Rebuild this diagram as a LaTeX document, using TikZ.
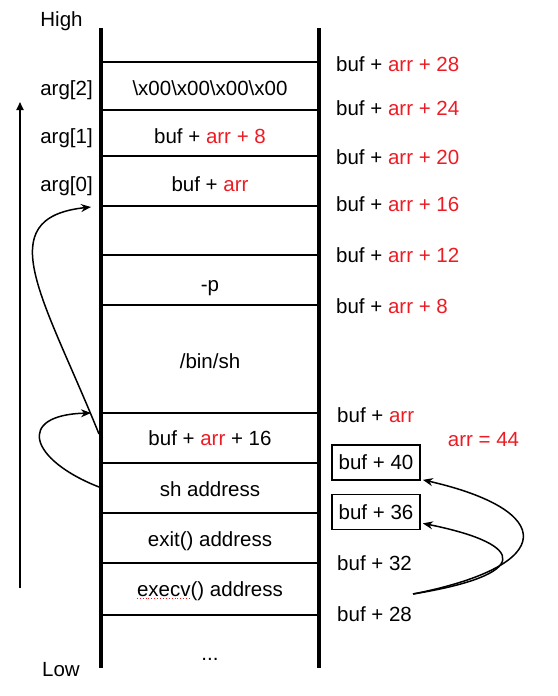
\documentclass[tikz,border=0pt]{standalone}
\usepackage{fontspec}
\setmainfont{Liberation Sans}
\usetikzlibrary{arrows.meta,calc}

\definecolor{arrred}{RGB}{236,28,36}
\newcommand{\rtxt}[1]{\textcolor{arrred}{#1}}

\tikzset{
	lbl/.style={font=\fontsize{20.5}{24}\selectfont, inner sep=0pt, text height=14.7pt, text depth=0pt},
	addr/.style={lbl, anchor=west},
	addrbox/.style={lbl, draw, line width=1.7pt, minimum width=88pt, minimum height=35pt},
	wall/.style={line width=3.5pt},
	sep/.style={line width=2.9pt},
	jump/.style={-{Stealth[length=10pt,width=8pt]}, line width=1.5pt}
}

\begin{document}
\begin{tikzpicture}[x=1pt,y=-1pt]
				\useasboundingbox (0,0) rectangle (557,696);
				
				\draw[wall] (101,28) -- (101,668);
				\draw[wall] (319,28) -- (319,668);
				
				\draw[sep] (101,62) -- (319,62);
				\draw[sep] (101,110) -- (319,110);
				\draw[sep] (101,156) -- (319,156);
				\draw[sep] (101,206) -- (319,206);
				\draw[sep] (101,255) -- (319,255);
				\draw[sep] (101,305) -- (319,305);
				\draw[sep] (101,413) -- (319,413);
				\draw[sep] (101,463) -- (319,463);
				\draw[sep] (101,513) -- (319,513);
				\draw[sep] (101,563) -- (319,563);
				\draw[sep] (101,615) -- (319,615);
				
				\node[lbl] (high) at (61.5,19.5) {High};
				\node[lbl] (low) at (61,669.5) {Low};
				\node[lbl] (arg2) at (66.5,88.5) {arg[2]};
				\node[lbl] (arg1) at (66.5,136) {arg[1]};
				\node[lbl] (arg0) at (66.5,184) {arg[0]};
				
				\node[lbl] (nul) at (210,88.5) {\textbackslash x00\textbackslash x00\textbackslash x00\textbackslash x00};
				\node[lbl] (ptrone) at (210,136) {buf + \rtxt{arr + 8}};
				\node[lbl] (ptrzero) at (210,184) {buf + \rtxt{arr}};
				\node[lbl] (opt) at (210,284) {-p};
				\node[lbl] (bin) at (210,361) {/bin/sh};
				\node[lbl] (argv) at (210,438.5) {buf + \rtxt{arr} + 16};
				\node[lbl] (sh) at (210,489) {sh address};
				\node[lbl] (exit) at (210,539) {exit() address};
				\node[lbl] (execv) at (210,589.5) {execv() address};
				\node[lbl] (dots) at (210,653) {...};
				
				\draw[arrred, dotted, line width=0.9pt] ([yshift=-8.5pt]execv.west) -- ++(55,0);
				
				\node[addr] (r28) at (336,64.5) {buf + \rtxt{arr + 28}};
				\node[addr] (r24) at (336,108.5) {buf + \rtxt{arr + 24}};
				\node[addr] (r20) at (336,157) {buf + \rtxt{arr + 20}};
				\node[addr] (r16) at (336,204.5) {buf + \rtxt{arr + 16}};
				\node[addr] (r12) at (336,255.5) {buf + \rtxt{arr + 12}};
				\node[addr] (r8) at (336,306) {buf + \rtxt{arr + 8}};
				\node[addr] (r0) at (337,415) {buf + \rtxt{arr}};
				\node[lbl, arrred] (arr) at (483.5,439.5) {arr = 44};
				\node[addrbox] (b40) at (376,462.5) {buf + 40};
				\node[addrbox] (b36) at (376,512) {buf + 36};
				\node[addr] (b32) at (337,563.5) {buf + 32};
				\node[addr] (b28) at (337,614.5) {buf + 28};
				
				\coordinate (lo) at (20,588);
				\coordinate (hi) at (20,102);
				\coordinate (from16) at (99,434);
				\coordinate (fromsh) at (99,487);
				\coordinate (to0) at (91,207);
				\coordinate (to16) at (91,413);
				\coordinate (src) at (413,594);
				
				\draw[-{Triangle[length=8pt,width=7pt]}, line width=1.8pt] (lo) -- (hi);
				
				\draw[jump] (from16) .. controls (45,300) and (-12,218) .. (to0);
				\draw[jump] (fromsh) .. controls (30,460) and (15,415) .. (to16);
				
				\draw[jump] (src) .. controls (560,565) and (555,510) .. ([shift={(2pt,1pt)}]b40.south east);
				\draw[jump] (src) .. controls (530,575) and (530,545) .. ([shift={(2pt,7pt)}]b36.south east);
\end{tikzpicture}
\end{document}
